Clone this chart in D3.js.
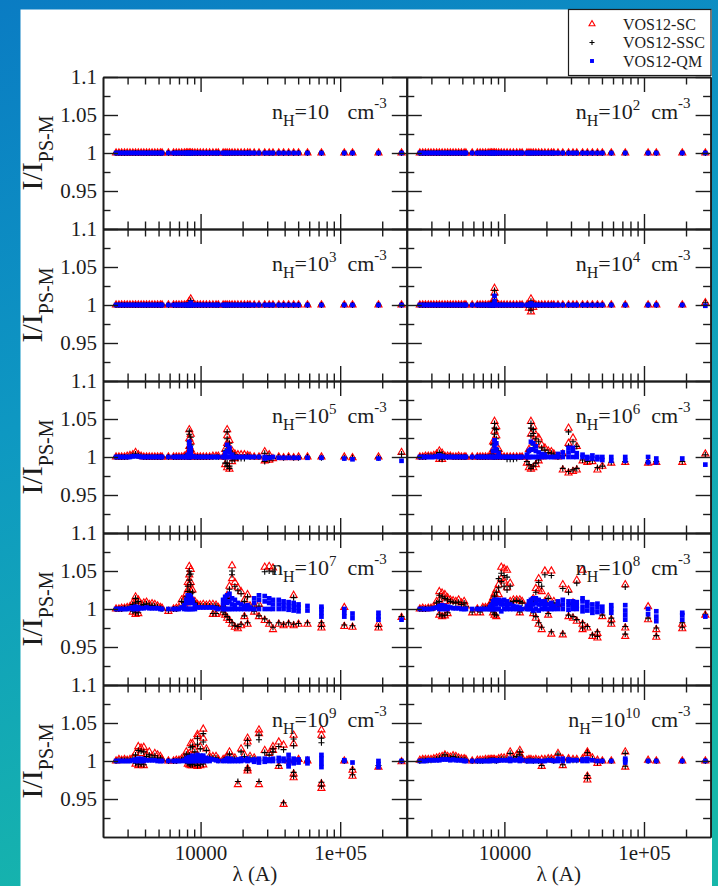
<!DOCTYPE html>
<html>
<head>
<meta charset="utf-8">
<script src="https://cdn.jsdelivr.net/npm/d3@7"></script>
<style>
  html, body { margin: 0; padding: 0; background: #fff; }
  svg { display: block; }
  svg text { font-family: "Liberation Serif", "Times New Roman", Times, serif; }
</style>
</head>
<body>
<script>
// ---------------------------------------------------------------------------
// Line wavelengths (Å), shared by every density panel
// ---------------------------------------------------------------------------
const wavelengths = [
  2480, 2600, 2720, 2850, 2980, 3120, 3270, 3420, 3580, 3750,
  3920, 4100, 4290, 4490, 4700, 4920, 5150, 5300,
  5880,
  6400, 6700, 7000, 7320, 7650, 7900, 8100, 8300, 8500, 8750,
  9100, 9500, 9950, 10450, 11000, 11600, 12250, 12900, 13400,
  14500, 15000, 15500, 16100, 16800, 17600, 18500, 19500, 20600, 21700, 22600,
  24200, 26200, 28800, 31000, 33000,
  36300, 39300, 42700, 46400, 50300,
  58300, 73400, 107000, 122500, 188000, 275000
];

const nHExponents = ["", "2", "3", "4", "5", "6", "7", "8", "9", "10"];
const seriesNames = ["VOS12-SC", "VOS12-SSC", "VOS12-QM"];

const xMajorTicks = [1e4, 1e5];
const xTickLabels = ["10000", "1e+05"];
const xMinorTicks = [3000, 4000, 5000, 6000, 7000, 8000, 9000,
                     20000, 30000, 40000, 50000, 60000, 70000, 80000, 90000, 200000];
const yMajorTicks = [0.95, 1, 1.05, 1.1];
const yTickLabels = ["0.95", "1", "1.05", "1.1"];
const yMinorTicks = [0.925, 0.975, 1.025, 1.075];

// ---------------------------------------------------------------------------
// Ratios I/I_PS-M, stored as (ratio - 1) in units of 1e-3, one entry per
// wavelength above. An inner array holds several values at the same line.
// Groups: 2480–5300 | 5880 | 6400–13400 | 14500–22600 | 24200–50300 | 58300–275000
// ---------------------------------------------------------------------------

// n_H = 10 cm^-3
const sc_nH1 = [
  0,0,0,0,0,0,0,0,0,0,0,0,0,0,0,0,0,0,
  0,
  0,0,0,0,0,0,0,0,0,0,0,0,0,0,0,0,0,0,0,
  0,0,0,0,0,0,0,0,0,0,0,
  0,0,0,0,0,0,0,0,0,0,
  0,0,0,0,0,0
];
const ssc_nH1 = [
  0,0,0,0,0,0,0,0,0,0,0,0,0,0,0,0,0,0,
  0,
  0,0,0,0,0,0,0,0,0,0,0,0,0,0,0,0,0,0,0,
  0,0,0,0,0,0,0,0,0,0,0,
  0,0,0,0,0,0,0,0,0,0,
  0,0,0,0,0,0
];
const qm_nH1 = [
  0,0,0,0,0,0,0,0,0,0,0,0,0,0,0,0,0,0,
  0,
  0,0,0,0,0,0,0,0,0,0,0,0,0,0,0,0,0,0,0,
  0,0,0,0,0,0,0,0,0,0,0,
  0,0,0,0,0,0,0,0,0,0,
  0,0,0,0,0,0
];

// n_H = 10^2 cm^-3
const sc_nH2 = [
  0,0,0,0,0,0,0,0,0,0,0,0,0,0,0,0,0,0,
  0,
  0,0,0,0,0,0,0,0,0,0,0,0,0,0,0,0,0,0,0,
  0,0,0,0,0,0,0,0,0,0,0,
  0,0,0,0,0,0,0,0,0,0,
  0,0,0,0,0,0
];
const ssc_nH2 = [
  0,0,0,0,0,0,0,0,0,0,0,0,0,0,0,0,0,0,
  0,
  0,0,0,0,0,0,0,0,0,0,0,0,0,0,0,0,0,0,0,
  0,0,0,0,0,0,0,0,0,0,0,
  0,0,0,0,0,0,0,0,0,0,
  0,0,0,0,0,0
];
const qm_nH2 = [
  0,0,0,0,0,0,0,0,0,0,0,0,0,0,0,0,0,0,
  0,
  0,0,0,0,0,0,0,0,0,0,0,0,0,0,0,0,0,0,0,
  0,0,0,0,0,0,0,0,0,0,0,
  0,0,0,0,0,0,0,0,0,0,
  0,0,0,0,0,0
];

// n_H = 10^3 cm^-3
const sc_nH3 = [
  0,0,0,0,0,0,0,0,0,0,0,0,0,0,0,0,0,0,
  0,
  0,0,0,0,0,0,0,[0,5],[0,8],0,0,0,0,0,0,0,0,0,0,
  0,0,0,0,0,0,0,0,0,0,0,
  0,0,0,0,0,0,0,0,0,0,
  0,0,0,0,0,0
];
const ssc_nH3 = [
  0,0,0,0,0,0,0,0,0,0,0,0,0,0,0,0,0,0,
  0,
  0,0,0,0,0,0,0,[0,3],[0,6],0,0,0,0,0,0,0,0,0,0,
  0,0,0,0,0,0,0,0,0,0,0,
  0,0,0,0,0,0,0,0,0,0,
  0,0,0,0,0,0
];
const qm_nH3 = [
  0,0,0,0,0,0,0,0,0,0,0,0,0,0,0,0,0,0,
  0,
  0,0,0,0,0,0,0,0,[0,3],0,0,0,0,0,0,0,0,0,0,
  0,0,0,0,0,0,0,0,0,0,0,
  0,0,0,0,0,0,0,0,0,0,
  0,0,0,0,0,0
];

// n_H = 10^4 cm^-3
const sc_nH4 = [
  0,0,0,0,0,0,0,0,0,0,0,0,0,0,0,0,0,0,
  0,
  0,0,0,0,0,0,0,[0,6],[0,8,16,22],2,0,0,0,0,0,0,0,0,0,
  0,[0,-4],[8,0,-9],[2,-3],0,0,0,0,0,0,0,
  0,0,0,0,0,0,0,0,0,0,
  0,0,0,0,0,3
];
const ssc_nH4 = [
  0,0,0,0,0,0,0,0,0,0,0,0,0,0,0,0,0,0,
  0,
  0,0,0,0,0,0,0,[0,4],[0,6,13,19],1,0,0,0,0,0,0,0,0,0,
  0,[0,-3],[5,0,-7],[1,-2],0,0,0,0,0,0,0,
  0,0,0,0,0,0,0,0,0,0,
  0,0,0,0,0,3
];
const qm_nH4 = [
  0,0,0,0,0,0,0,0,0,0,0,0,0,0,0,0,0,0,
  0,
  0,0,0,0,0,0,0,0,[0,5,12],0,0,0,0,0,0,0,0,0,0,
  0,0,[0,2],0,0,0,0,0,0,0,0,
  0,0,0,0,0,0,0,0,0,0,
  0,0,0,0,0,-1
];

// n_H = 10^5 cm^-3
const sc_nH5 = [
  0,0,0,0,1,2,3,6,3,1,0,0,0,0,0,0,0,0,
  0,
  0,0,0,0,1,2,[0,6],[0,14,24,36],[0,10,20,30],3,0,0,0,0,0,0,1,1,1,
  0,[0,10,-10],[36,28,18,-14],[22,10,-16],[8,-6],[4,-2],3,3,3,2,1,
  0,0,[7,-5],[3,-4],-2, 0,-1,0,-1,0,
  0,0,0,-1,0,6
];
const ssc_nH5 = [
  0,0,0,0,0,1,2,4,2,1,0,0,0,0,0,0,0,0,
  0,
  0,0,0,0,0,1,[0,4],[0,12,20,30,34],[0,8,16,26],2,0,0,0,0,0,0,0,0,0,
  0,[0,8,-8],[33,24,14,-12,-8],[18,8,-12,-15],[5,-5],[3,-3],[0,-2],[0,-2],[0,-2],1,0,
  0,0,[5,-6],[2,-4],-2, 0,-1,0,-1,-1,
  0,-1,-1,-1,-1,4
];
const qm_nH5 = [
  0,0,0,0,0,0,1,1,1,0,0,0,0,0,0,0,0,0,
  0,
  0,0,0,0,0,0,[0,3],[0,8,14,20],[0,6,12],1,0,0,0,0,0,0,0,0,0,
  0,[0,5],[0,8,16],[0,6,12],[0,3],0,0,0,0,0,0,
  0,0,[0,-2],-1,0, -1,-1,-1,-1,-1,
  -1,-1,-2,-3,-2,-5
];

// n_H = 10^6 cm^-3
const sc_nH6 = [
  0,0,1,1,1,2,4,[8,-3],[5,-3],1,1,1,0,0,1,0,0,0,
  0,
  0,0,0,0,0,1,2,[0,10,20],[0,20,34,47],[0,28,40],[0,10],0,0,0,0,0,0,0,0,
  [0,-8],[10,-14],[47,30,-16],[40,20,-14],[29,-10],[25,-5],[16,0],12,8,7,4,
  0,[4,-17],[38,18,-21],[25,-19],[14,-17], -5,-7,-6,-17,-12,
  -8,-7,-8,-7,-7,4
];
const ssc_nH6 = [
  0,0,0,1,1,1,3,[6,-2],[4,-3],1,0,1,0,0,0,0,0,0,
  0,
  0,0,0,0,0,1,1,[0,8,16],[0,18,30,38,44],[0,24,36],[0,8],0,0,[0,-3],[0,-3],[0,-3],[0,-2],0,0,
  [0,-6],[8,-10],[44,38,28,-15],[36,31,16,-12],[24,-8],[20,-4],12,9,6,5,3,
  0,[2,-15],[33,14,-19],[20,-17],[14,-15], -4,-6,-5,-14,-12,
  -7,-6,-7,-6,-6,3
];
const qm_nH6 = [
  0,0,0,0,0,0,1,[2,0],1,0,0,0,0,0,0,0,0,0,
  0,
  0,0,0,0,0,0,0,[0,8],[0,8,15,22],[0,10,18],[0,5],0,0,0,0,0,0,0,0,
  [0,3],[0,8],[0,10,20],[0,10,18],[0,8,14],[0,6],[0,4],[0,3],0,0,0,
  [0,4],[0,6],[0,6,12],[0,8,12],[0,5], [0,3],[0,-2],[2,-2],[0,-3],[0,-4],
  [0,-5],[0,-5],[0,-7],[-2,-7],-2,-10
];

// n_H = 10^7 cm^-3
const sc_nH7 = [
  0,0,1,1,2,3,[8,-4],[16,10,-7],[12,-6],6,8,9,6,7,6,4,2,1,
  -3,
  0,1,2,12,[12,5],[20,8],[35,25],[56,45,33],[52,35,24],[25,12],10,6,5,6,5,6,[6,-7],[5,-7],2,
  [4,-5],[10,-8],[18,-12],[30,-15],[57,40,-20],[35,-24],[28,-26],[23,-22],[12,-10],[19,-20],4,
  [3,-4],[6,-10],[55,-15],[56,-20],[54,-27], -20,-22,-20,[18,-22],-20,
  -20,[-20,-25],[2,-23],-24,[-25,-20],-11
];
const ssc_nH7 = [
  0,0,0,1,1,2,[6,-3],[14,8,-5],[10,-5],5,6,7,5,5,4,3,1,0,
  -2,
  0,0,1,10,9,16,[30,23],[50,45,38,23],[46,32,20],[22,10],8,4,4,4,4,4,[4,-6],[4,-6],1,
  [3,-4],[8,-7],[14,-10],[26,-14],[50,45,-18],[30,-22],[24,-23],[20,-20],[10,-9],[16,-18],3,
  [2,-3],[4,-9],[49,-13],[50,-18],[49,-24], -18,-20,-18,[15,-20],-19,
  -18,[-18,-23],-21,-22,-23,-10
];
const qm_nH7 = [
  0,0,0,0,0,1,[0,2],[0,3],[0,2],1,1,2,1,1,1,1,0,0,
  0,
  0,0,0,2,[0,5],[0,8,12],[0,10,18],[0,8,14,18],[0,10,16],[0,8,12],[0,5],2,2,2,2,2,2,1,0,
  [0,6,12],[0,10,16],[0,8,18],[0,10,20],[0,6,14],[0,5,12],[0,8],[0,6],[0,4],[0,5],[0,2],
  [0,8,14],[0,12,18],[0,10,17],[0,8,14],[0,6,12], [0,6,12],[0,5,10],[-1,4,9],[-2,3,8],[-3,2,6],
  [-2,4],[-10,-5,0,3],[-10,-5,0],[-12,-6],[-14,-10,-5],-14
];

// n_H = 10^8 cm^-3
const sc_nH8 = [
  0,1,0,1,1,2,10,[23,12,-8],[21,-10],[19,10,-9],[15,-6],12,11,10,12,8,10,4,
  -5,
  0,-5,2,2,2,6,10,[15,-5],[20,-8],[25,-10],[32,19],[55,40],[53,37],[51,28],[34,10],12,12,[12,-5],10,
  2,5,10,[14,-6],[27,-12],[40,25,-20],[23,-27],[50,10],[16,-8],[50,-33],10,
  6,[32,-34],[25,-10],[8,-12],[38,-16], [51,-20,-27],-25,-36,[-32,-38],-10,
  [-14,-20],[32,-25,-36],[3,-14],[-27,-37],[-20,-26],-8
];
const ssc_nH8 = [
  0,0,0,1,1,1,8,[18,10,-7],[16,-9],[14,-8],[12,-5],10,9,8,9,6,8,3,
  -4,
  0,-4,1,1,1,4,8,[12,-4],[17,-7],[22,-8],[40,28],[47,36],[44,30],[42,25],[30,8],10,11,[10,-4],8,
  1,4,8,[12,-5],[22,-10],[35,-18],[30,-24],[45,8],[14,-6],[44,-30],8,
  5,[27,-32],[22,-8],[6,-10],[34,-14], [-18,-25],-23,-34,[-30,-36],-8,
  [-12,-18],[29,-23,-33],-12,[-25,-35],[-18,-24],-7
];
const qm_nH8 = [
  0,0,0,0,0,1,2,[0,4],[0,5],[0,4],[0,3],2,1,1,1,0,0,0,
  0,
  0,0,0,0,0,[0,3],[0,5],[0,6,10],[0,8,12],[0,6,12],[0,8,12],[-3,6,11],[0,6,12],[0,5,10],[0,6],[0,4],[0,3],[0,2],0,
  [0,4],[0,6,10],[0,6,12],[-2,6,14],[0,8,14],[-2,6,12],[0,6,10],[0,5,10],[0,6],[0,4,8],[0,4],
  [0,6,10],[0,6,12],[-1,5,10],[0,5,10],[0,4,9], [-3,3,10,14],[-2,4,9],[-5,0,6],[-4,2,7],[-3,3],
  [-5,0,5],[-14,-8,-2,5],[-7,0],[-16,-10,-3],[-14,-8,-5],-10
];

// n_H = 10^9 cm^-3
const sc_nH9 = [
  0,2,1,2,1,2,4,[10,-4],[19,-6],[17,10,-5],[18,-6],8,12,6,10,8,6,2,
  0,
  0,1,1,3,5,12,[8,-4],[10,-5],[23,-6],[23,8,-6],[14,-5],[35,32,-7],[19,-6],[42,30,-5],16,6,6,6,2,
  2,3,6,12,5,4,-31,16,8,[30,25,-10,-13],6,
  4,[41,36,-31],14,10,[19,14], [25,-7],[21,-57],0,[34,23,-17,-22],2,
  0,[41,34,-30,-36],0,[-12,-20],-8,-1
];
const ssc_nH9 = [
  0,1,1,1,1,1,3,[8,-3],[14,-5],[13,-4],[12,-5],6,8,5,7,4,4,1,
  0,
  0,0,1,2,4,9,[6,-3],[8,-4],[18,-5],[19,-5],[12,-4],[30,22,-6],[16,-5],[36,25,-4],14,5,4,4,1,
  1,2,4,9,3,3,-27,12,6,[27,20,-9,-12],4,
  3,[34,28,-27],11,8,[16,12], [19,-6],[15,-55],0,[29,20,-15,-20],1,
  0,[30,24,-28,-33],0,[-11,-18],-6,0
];
const qm_nH9 = [
  0,0,0,0,0,0,1,[0,2],[0,3],[0,3],[0,2],1,1,1,1,0,0,0,
  0,
  0,0,0,0,1,[0,3],[0,4],[0,5],[0,5],[0,4,7],[0,5],[0,5,8],[0,4,7],[0,4,7],[0,4],[0,3],2,1,0,
  0,1,[0,3],[0,3],[0,2],0,[0,2],[0,3],1,[0,3],1,
  [-1,2],[-2,1,3],[-1,3],[0,2],[0,3], [0,4],[0,3],[-7,-3,2,8],[-3,0,3],[-2,2],
  [-3,0,3],[-8,-3,3,8],[0,1],-2,[-8,-4,0],0
];

// n_H = 10^10 cm^-3
const sc_nH10 = [
  1,2,2,2,2,3,4,5,6,8,6,5,7,6,4,3,3,2,
  0,
  1,1,1,2,2,2,2,2,2,1,3,4,4,3,12,5,8,[14,8],4,
  1,2,2,1,2,1,[2,-7],2,3,3,1,
  10,[3,-6],3,2,2, 3,[12,10,-20,-25],4,[1,-3],0,
  0,[12,-8],1,0,0,0
];
const ssc_nH10 = [
  0,1,1,1,1,2,3,4,5,8,5,4,6,5,3,2,2,1,
  0,
  0,0,0,1,1,1,1,1,1,0,2,3,3,2,10,4,6,[12,8],3,
  0,1,1,0,1,0,-6,1,2,2,0,
  9,-5,2,1,1, 2,[11,-19,-23],3,-2,0,
  0,[10,-7],0,0,0,0
];
const qm_nH10 = [
  0,0,0,1,1,1,1,1,2,2,2,1,2,1,1,1,0,0,
  0,
  0,0,0,0,0,0,1,1,1,0,1,1,1,1,[0,3],1,1,[0,3],1,
  0,0,0,0,0,0,0,0,1,1,0,
  [0,3],[0,3],[0,2],1,1, [0,2],[0,3],1,0,0,
  0,[-2,1,3],0,0,0,0
];

// ---------------------------------------------------------------------------
// Panel table, read row by row (left, right)
// ---------------------------------------------------------------------------
const panels = [
  { exp: nHExponents[0], SC: sc_nH1,  SSC: ssc_nH1,  QM: qm_nH1 },
  { exp: nHExponents[1], SC: sc_nH2,  SSC: ssc_nH2,  QM: qm_nH2 },
  { exp: nHExponents[2], SC: sc_nH3,  SSC: ssc_nH3,  QM: qm_nH3 },
  { exp: nHExponents[3], SC: sc_nH4,  SSC: ssc_nH4,  QM: qm_nH4 },
  { exp: nHExponents[4], SC: sc_nH5,  SSC: ssc_nH5,  QM: qm_nH5 },
  { exp: nHExponents[5], SC: sc_nH6,  SSC: ssc_nH6,  QM: qm_nH6 },
  { exp: nHExponents[6], SC: sc_nH7,  SSC: ssc_nH7,  QM: qm_nH7 },
  { exp: nHExponents[7], SC: sc_nH8,  SSC: ssc_nH8,  QM: qm_nH8 },
  { exp: nHExponents[8], SC: sc_nH9,  SSC: ssc_nH9,  QM: qm_nH9 },
  { exp: nHExponents[9], SC: sc_nH10, SSC: ssc_nH10, QM: qm_nH10 }
];

panels.forEach((p, i) => ["SC", "SSC", "QM"].forEach(k => {
  if (p[k].length !== wavelengths.length) console.error("panel", i, k, "length", p[k].length);
}));

// ---------------------------------------------------------------------------
// Layout
// ---------------------------------------------------------------------------
const W = 718, H = 886;
const serif = "Liberation Serif, Times New Roman, Times, serif";
const ink = "#1c1c1c";
const plotLeft = 103, plotTop = 77;
const panelW = 303.8, panelH = 152;

const x = d3.scaleLog().domain([2000, 300000]).range([0, panelW]);
const y = d3.scaleLinear().domain([0.9, 1.1]).range([panelH, 0]);

const svg = d3.select("body").append("svg")
  .attr("width", W).attr("height", H);

// Page backdrop: blue-to-teal border around a white sheet
const defs = svg.append("defs");
const grad = defs.append("linearGradient").attr("id", "edgeGrad")
  .attr("x1", 0).attr("y1", 0).attr("x2", 0.3).attr("y2", 1);
grad.append("stop").attr("offset", "0%").attr("stop-color", "#0a7cc3");
grad.append("stop").attr("offset", "45%").attr("stop-color", "#0e98c2");
grad.append("stop").attr("offset", "100%").attr("stop-color", "#17b7aa");
svg.append("rect").attr("width", W).attr("height", H).attr("fill", "url(#edgeGrad)");
svg.append("rect").attr("x", 20.5).attr("y", 9.5)
  .attr("width", 712 - 20.5).attr("height", H - 9.5).attr("fill", "#fff");

const plusType = d3.symbolPlus || d3.symbolCross;
const seriesStyle = [
  { key: "SC",  type: d3.symbolTriangle, size: 22, fill: "none",    stroke: "#ff0000", sw: 1.1 },
  { key: "SSC", type: plusType,          size: 14, fill: "none",    stroke: "#000000", sw: 1.1 },
  { key: "QM",  type: d3.symbolSquare,   size: 22, fill: "#0000ff", stroke: "none",    sw: 0 }
];

function expand(values) {
  return wavelengths.flatMap((w, j) => [].concat(values[j]).map(d => ({ w, r: 1 + d / 1000 })));
}

function styleAxis(g) {
  g.attr("font-family", serif).attr("font-size", 21);
  g.selectAll("path.domain").attr("stroke", ink).attr("stroke-width", 1.6);
  g.selectAll(".tick line").attr("stroke", ink).attr("stroke-width", 1.4);
  g.selectAll(".tick text").attr("fill", ink);
}

const blank = () => "";

panels.forEach((p, i) => {
  const col = i % 2, row = Math.floor(i / 2);
  const g = svg.append("g")
    .attr("transform", `translate(${plotLeft + col * panelW},${plotTop + row * panelH})`);

  // Data markers
  seriesStyle.forEach(s => {
    const sym = d3.symbol(s.type, s.size);
    g.append("g").selectAll("path")
      .data(expand(p[s.key]))
      .join("path")
      .attr("d", sym)
      .attr("transform", d => `translate(${x(d.w)},${y(d.r)})`)
      .attr("fill", s.fill)
      .attr("stroke", s.stroke)
      .attr("stroke-width", s.sw);
  });

  // Bottom axis (labels on last row only)
  const isBottom = row === 4;
  g.append("g").attr("transform", `translate(0,${panelH})`)
    .call(d3.axisBottom(x).tickValues(xMajorTicks).tickSize(-15).tickSizeOuter(0).tickPadding(8)
      .tickFormat(isBottom ? (d, k) => xTickLabels[k] : blank))
    .call(styleAxis);
  g.append("g").attr("transform", `translate(0,${panelH})`)
    .call(d3.axisBottom(x).tickValues(xMinorTicks).tickSize(-7.5).tickSizeOuter(0).tickFormat(blank))
    .call(styleAxis);
  // Top axis
  g.append("g")
    .call(d3.axisTop(x).tickValues(xMajorTicks).tickSize(-15).tickSizeOuter(0).tickFormat(blank))
    .call(styleAxis);
  g.append("g")
    .call(d3.axisTop(x).tickValues(xMinorTicks).tickSize(-7.5).tickSizeOuter(0).tickFormat(blank))
    .call(styleAxis);
  // Left axis (labels on left column only)
  g.append("g")
    .call(d3.axisLeft(y).tickValues(yMajorTicks).tickSize(-15).tickSizeOuter(0).tickPadding(6)
      .tickFormat(col === 0 ? (d, k) => yTickLabels[k] : blank))
    .call(styleAxis);
  g.append("g")
    .call(d3.axisLeft(y).tickValues(yMinorTicks).tickSize(-7.5).tickSizeOuter(0).tickFormat(blank))
    .call(styleAxis);
  // Right axis
  g.append("g").attr("transform", `translate(${panelW},0)`)
    .call(d3.axisRight(y).tickValues(yMajorTicks).tickSize(-15).tickSizeOuter(0).tickFormat(blank))
    .call(styleAxis);
  g.append("g").attr("transform", `translate(${panelW},0)`)
    .call(d3.axisRight(y).tickValues(yMinorTicks).tickSize(-7.5).tickSizeOuter(0).tickFormat(blank))
    .call(styleAxis);

  // Density label: n_H=10^k cm^-3
  const lbl = g.append("text")
    .attr("x", panelW - 20).attr("y", 42)
    .attr("text-anchor", "end").attr("font-size", 22).attr("fill", ink);
  lbl.append("tspan").text("n");
  lbl.append("tspan").attr("dy", 7).attr("font-size", 16).text("H");
  lbl.append("tspan").attr("dy", -7).text("=10");
  lbl.append("tspan").attr("dy", -9).attr("font-size", 15).text(p.exp || "\u2007");
  lbl.append("tspan").attr("dy", 9).text("\u00a0\u00a0cm");
  lbl.append("tspan").attr("dy", -11).attr("font-size", 15).text("-3");
});

// Y-axis titles, one per row
for (let row = 0; row < 5; row++) {
  const cy = plotTop + row * panelH + panelH / 2;
  const t = svg.append("text")
    .attr("transform", `translate(42,${cy}) rotate(-90)`)
    .attr("text-anchor", "middle").attr("font-size", 30).attr("fill", ink);
  t.append("tspan").text("I/I");
  t.append("tspan").attr("dy", 11).attr("font-size", 20).text("PS-M");
}

// X-axis titles
[0, 1].forEach(col => {
  svg.append("text")
    .attr("x", plotLeft + col * panelW + panelW / 2).attr("y", 881)
    .attr("text-anchor", "middle").attr("font-size", 21).attr("fill", ink)
    .text("\u03bb (A)");
});

// Legend
const leg = svg.append("g");
leg.append("rect").attr("x", 568.5).attr("y", 9.5).attr("width", 142.5).attr("height", 66)
  .attr("fill", "#fff").attr("stroke", ink).attr("stroke-width", 1.2);
const legendRows = [24, 42.5, 61];
seriesStyle.forEach((s, k) => {
  leg.append("path")
    .attr("d", d3.symbol(s.type, s.size * 0.7)())
    .attr("transform", `translate(592,${legendRows[k]})`)
    .attr("fill", s.fill).attr("stroke", s.stroke).attr("stroke-width", s.sw);
  leg.append("text")
    .attr("x", 623).attr("y", legendRows[k] + 5.5)
    .attr("font-size", 16).attr("fill", ink)
    .text(seriesNames[k]);
});
</script>
</body>
</html>
